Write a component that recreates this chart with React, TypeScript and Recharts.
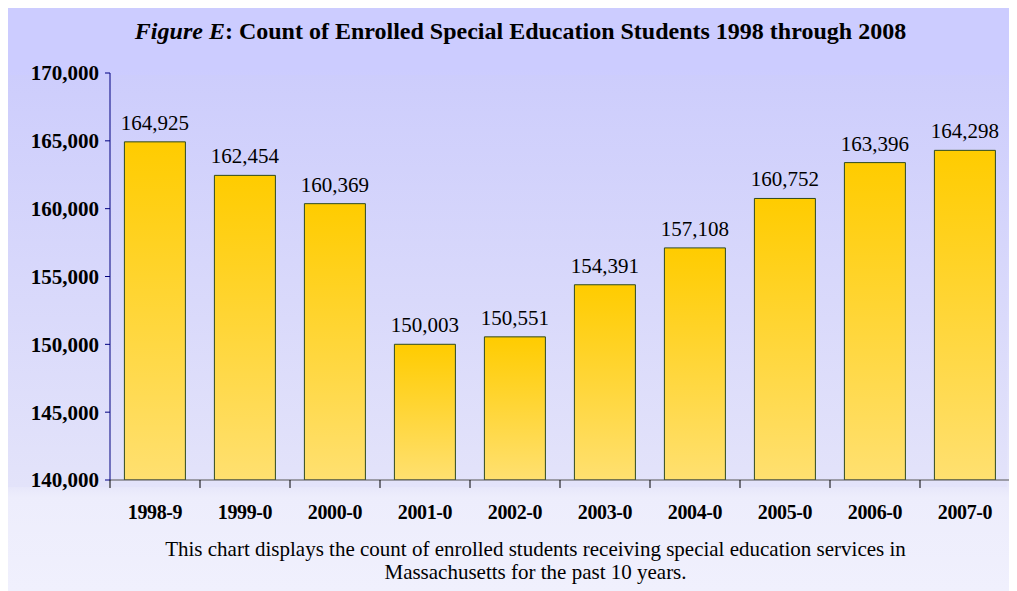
import React from "react";
import { BarChart, Bar, XAxis, YAxis, LabelList } from "recharts";

const categories = ["1998-9", "1999-0", "2000-0", "2001-0", "2002-0", "2003-0", "2004-0", "2005-0", "2006-0", "2007-0"];
const enrolled = [164925, 162454, 160369, 150003, 150551, 154391, 157108, 160752, 163396, 164298];
const yTicks = [140000, 145000, 150000, 155000, 160000, 165000, 170000];

const data = categories.map((c, i) => ({ year: c, count: enrolled[i] }));

const W = 1009;
const H = 587;
const M = { top: 69, right: 7, bottom: 71, left: 0 };
const YW = 102;
const PLOT_W = W - M.left - M.right - YW;
const BAND = PLOT_W / categories.length;
const SERIF = "'Liberation Serif', 'Times New Roman', serif";
const fmt = (v: number) => v.toLocaleString("en-US");

const XTick = (props: any) => {
  const { x, y, payload, index } = props;
  const last = index === categories.length - 1;
  return (
    <g>
      <line x1={x - BAND / 2} y1={y - 8} x2={x - BAND / 2} y2={y} stroke="#000" strokeWidth={1} />
      {last && <line x1={x + BAND / 2} y1={y - 8} x2={x + BAND / 2} y2={y} stroke="#555" strokeWidth={1} />}
      <text x={x} y={y + 31} textAnchor="middle" fontFamily={SERIF} fontWeight="bold" fontSize={20} fill="#000" letterSpacing={-0.4}>
        {payload.value}
      </text>
    </g>
  );
};

export default function App() {
  return (
    <div
      style={{
        position: "relative",
        width: W,
        height: H,
        marginTop: -4,
        background: "linear-gradient(to bottom, #CCCCFF 0%, #CCCCFF 11%, #E6E6FA 82%, #EDEDFC 84%, #F0F0FD 100%)",
        fontFamily: SERIF,
      }}
    >
      <div
        style={{
          position: "absolute",
          left: 0,
          top: 71,
          width: 999,
          height: 412,
          background: "linear-gradient(to bottom, #CDCDFC 0%, #E3E3FA 100%)",
        }}
      />
      <div
        style={{
          position: "absolute",
          left: 0,
          width: 1025,
          top: 12,
          textAlign: "center",
          fontSize: 24,
          lineHeight: "30px",
          fontWeight: "bold",
          color: "#000",
          whiteSpace: "nowrap",
        }}
      >
        <i>Figure E</i>: Count of Enrolled Special Education Students 1998 through 2008
      </div>
      <div style={{ position: "absolute", left: 0, top: 0 }}>
        <BarChart width={W} height={H} data={data} margin={M} barCategoryGap="16%">
          <defs>
            <linearGradient id="barFill" x1="0" y1="0" x2="0" y2="1">
              <stop offset="0%" stopColor="#FFCC00" />
              <stop offset="100%" stopColor="#FFE070" />
            </linearGradient>
          </defs>
          <XAxis
            dataKey="year"
            stroke="#000"
            axisLine={{ stroke: "#555" }}
            tickLine={false}
            tick={<XTick />}
            interval={0}
            height={40}
          />
          <YAxis
            domain={[140000, 170000]}
            ticks={yTicks}
            tickFormatter={fmt}
            width={YW}
            axisLine={{ stroke: "#000080" }}
            tickLine={{ stroke: "#000080" }}
            tickSize={5}
            tickMargin={6}
            allowDataOverflow
            tick={{ fontFamily: SERIF, fontWeight: "bold", fontSize: 21, fill: "#000" }}
          />
          <Bar dataKey="count" fill="url(#barFill)" stroke="#2E4A1E" strokeWidth={1} isAnimationActive={false}>
            <LabelList
              dataKey="count"
              position="top"
              offset={12}
              formatter={(v: any) => fmt(Number(v))}
              style={{ fontFamily: SERIF, fontSize: 21, fill: "#000" }}
            />
          </Bar>
        </BarChart>
      </div>
      <div
        style={{
          position: "absolute",
          left: 0,
          width: 1055,
          top: 534,
          textAlign: "center",
          fontSize: 21,
          lineHeight: "23px",
          color: "#000",
          whiteSpace: "nowrap",
        }}
      >
        This chart displays the count of enrolled students receiving special education services in
        <br />
        Massachusetts for the past 10 years.
      </div>
    </div>
  );
}
